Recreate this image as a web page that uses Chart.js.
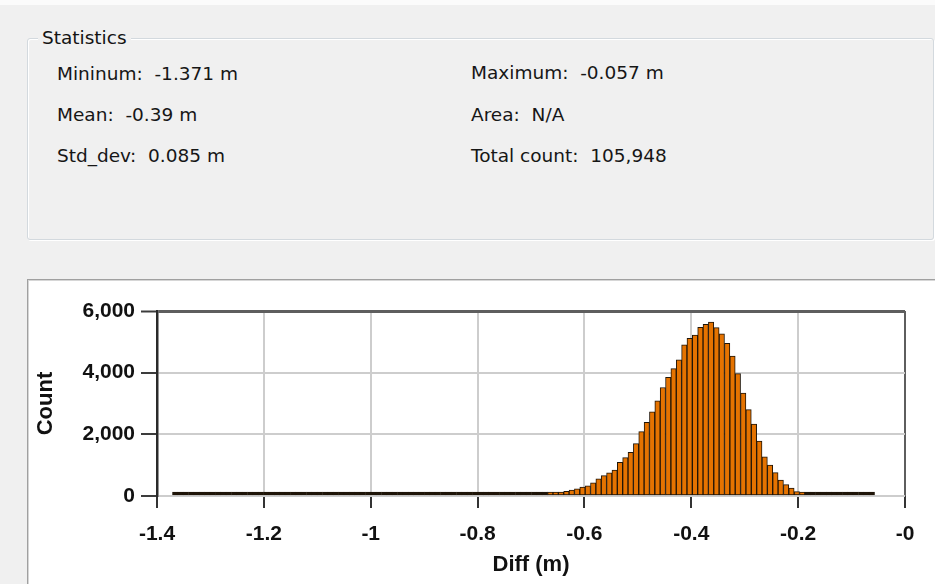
<!DOCTYPE html>
<html>
<head>
<meta charset="utf-8">
<title>Diff histogram</title>
<script src="https://cdn.jsdelivr.net/npm/chart.js@4.4.1/dist/chart.umd.min.js"></script>
<style>
  html, body {
    margin: 0;
    padding: 0;
    width: 935px;
    height: 584px;
    overflow: hidden;
    background: #f0f0f0;
    font-family: "DejaVu Sans", "Noto Sans", sans-serif;
  }
  .topband {
    position: absolute; left: 0; top: 0; width: 935px; height: 5px; background: #fbfbfb;
  }
  .group {
    position: absolute; left: 27px; top: 38px; width: 905px; height: 200px;
    border: 1px solid #d3d9de; border-radius: 3px;
    box-shadow: inset 1px 1px 0 #ffffff, 1px 1px 0 #ffffff;
  }
  .caption {
    position: absolute; left: 38px; top: 28px; padding: 0 4px;
    background: #f0f0f0; font-size: 18.5px; line-height: 20px; color: #141414;
  }
  .stat {
    position: absolute; font-size: 18.5px; line-height: 20px; color: #161616; white-space: pre;
  }
  .panel {
    position: absolute; left: 27px; top: 279px; width: 908px; height: 305px;
    background: #ffffff; box-sizing: border-box;
    border-top: 1px solid #a0a0a0; border-left: 1px solid #a0a0a0;
    box-shadow: inset 1px 1px 0 #d6d6d6;
  }
  #hist { position: absolute; left: 28px; top: 280px; }
</style>
</head>
<body>
<div class="topband"></div>
<div class="group"></div>
<div class="caption">Statistics</div>
<div class="stat" style="left:57px; top:64px;">Mininum:  -1.371 m</div>
<div class="stat" style="left:471px; top:63px;">Maximum:  -0.057 m</div>
<div class="stat" style="left:57px; top:105px;">Mean:  -0.39 m</div>
<div class="stat" style="left:471px; top:105px;">Area:  N/A</div>
<div class="stat" style="left:57px; top:146px;">Std_dev:  0.085 m</div>
<div class="stat" style="left:471px; top:146px;">Total count:  105,948</div>
<div class="panel"></div>
<canvas id="hist" width="907" height="304"></canvas>
<script>
// Histogram bins run from the minimum to the maximum difference.
const binStart = -1.371;
const binEnd = -0.057;

// Count of cells in each bin, left to right.
const counts = [
  1, 1, 1, 1, 1, 1, 1, 1, 1, 1,
  1, 1, 1, 1, 1, 1, 1, 1, 1, 1,
  1, 1, 1, 1, 1, 1, 1, 1, 2, 1,
  1, 2, 1, 2, 2, 2, 2, 2, 3, 2,
  3, 3, 3, 3, 4, 4, 4, 4, 5, 5,
  5, 5, 6, 6, 6, 7, 7, 8, 8, 9,
  9, 10, 11, 12,
  14, 19, 24, 30, 40, 56, 72,
  94, 116, 150, 188, 235, 290, 326, 430, 555, 660,
  750, 840, 1090, 1245, 1420, 1700, 2090, 2390, 2730, 3090,
  3520, 3850, 4130, 4420, 4900, 5110, 5220, 5470, 5570, 5640,
  5460, 5260, 4950, 4540, 3970, 3340, 2800, 2330, 1780, 1270,
  1000, 760, 520, 370, 260, 140, 80, 48, 28, 16,
  11, 8, 6, 5, 4, 3, 2, 2, 1, 1
];

const xTicks = [-1.4, -1.2, -1, -0.8, -0.6, -0.4, -0.2, 0];
const xTickLabels = ['-1.4', '-1.2', '-1', '-0.8', '-0.6', '-0.4', '-0.2', '-0'];
const yTicks = [0, 2000, 4000, 6000];
const yTickLabels = ['0', '2,000', '4,000', '6,000'];

const binWidth = (binEnd - binStart) / counts.length;
const bins = counts.map((c, i) => ({ x: binStart + (i + 0.5) * binWidth, y: c }));

const barFill = '#e57300';
const barEdge = '#1f1508';
const gridGrey = '#cdcdcd';
const frameGrey = '#5e5e5e';
const tickFont = { family: '"Liberation Sans", Arial, sans-serif', size: 21, weight: 'bold' };
const titleFont = { family: '"Liberation Sans", Arial, sans-serif', size: 22, weight: 'bold' };

new Chart(document.getElementById('hist'), {
  type: 'bar',
  data: {
    datasets: [{
      data: bins,
      backgroundColor: ctx => (ctx.raw && ctx.raw.y < 60 ? barEdge : barFill),
      borderColor: barEdge,
      borderWidth: 1,
      borderSkipped: false,
      minBarLength: 4,
      barPercentage: 1,
      categoryPercentage: 1
    }]
  },
  options: {
    responsive: false,
    animation: false,
    events: [],
    layout: { padding: { left: 0, right: 30, top: 31, bottom: 0 } },
    plugins: { legend: { display: false }, tooltip: { enabled: false } },
    scales: {
      x: {
        type: 'linear',
        min: -1.4,
        max: 0,
        offset: false,
        afterBuildTicks: s => { s.ticks = xTicks.map(v => ({ value: v })); },
        afterFit: s => { s.height = 88; },
        ticks: {
          callback: (v, i) => xTickLabels[i],
          font: tickFont, color: '#111111', padding: 14,
          maxRotation: 0, autoSkip: false
        },
        grid: {
          offset: false,
          color: ctx => (ctx.index === 0 || ctx.index === xTicks.length - 1 ? frameGrey : gridGrey),
          lineWidth: 2,
          tickColor: '#333333',
          tickLength: 12,
          tickWidth: 2
        },
        border: { display: false },
        title: {
          display: true, text: 'Diff (m)', font: titleFont, color: '#111111',
          padding: { top: 0, bottom: 6 }
        }
      },
      y: {
        min: 0,
        max: 6000,
        afterBuildTicks: s => { s.ticks = yTicks.map(v => ({ value: v })); },
        afterFit: s => { s.width = 129; },
        ticks: {
          callback: (v, i) => yTickLabels[i],
          font: tickFont, color: '#111111', padding: 6
        },
        grid: {
          color: ctx => (ctx.tick && ctx.tick.value === 6000 ? frameGrey : gridGrey),
          lineWidth: ctx => (ctx.tick && ctx.tick.value === 6000 ? 3 : 2),
          tickColor: '#3c3c3c',
          tickLength: 16,
          tickWidth: 2
        },
        border: { display: true, color: '#2a2a2a', width: 2.5 },
        title: {
          display: true, text: 'Count', font: titleFont, color: '#111111',
          padding: { top: 5, bottom: 0 }
        }
      }
    }
  }
});
</script>
</body>
</html>
